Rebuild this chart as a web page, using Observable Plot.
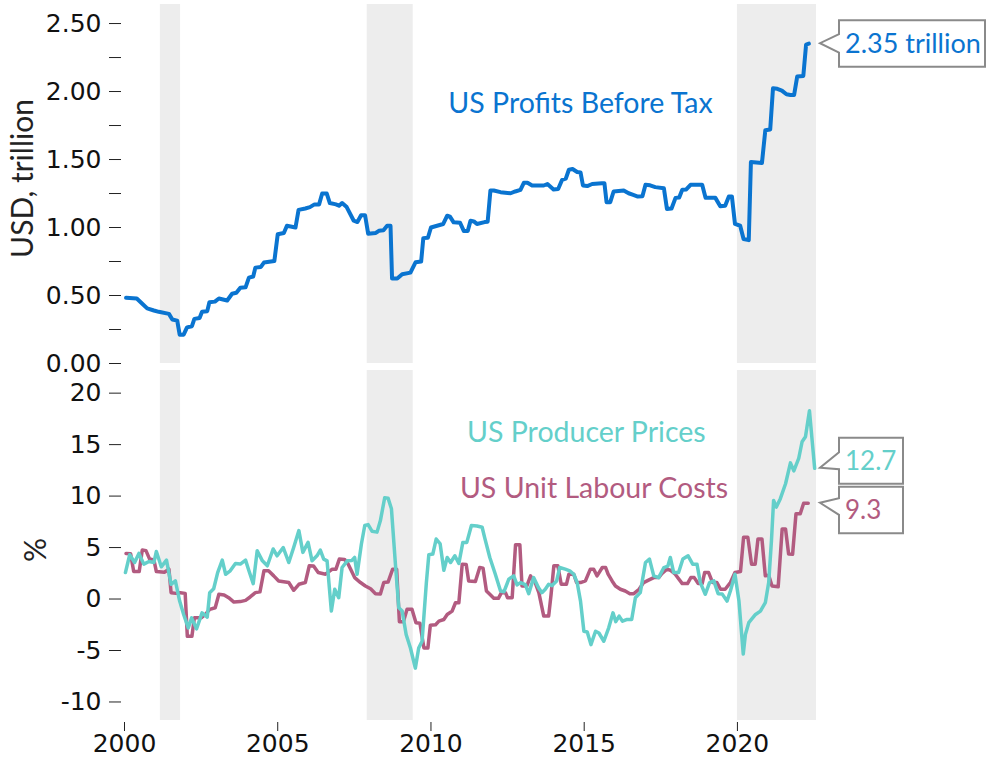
<!DOCTYPE html>
<html><head><meta charset="utf-8">
<script src="https://cdn.jsdelivr.net/npm/d3@7"></script>
<script src="https://cdn.jsdelivr.net/npm/@observablehq/plot@0.6"></script>
<style>
body{margin:0;background:#fff;}
#chart{width:989px;line-height:0;}
#chart svg{display:block;}
</style></head><body><div id="chart"></div>
<script>
// ---------- data ----------
const recessionStart = [2001.17, 2007.92, 2020.0];
const recessionEnd   = [2001.83, 2009.42, 2022.58];

const profitYears = [2000.05,2000.4,2000.58,2000.74,2000.96,2001.12,2001.45,2001.56,2001.72,2001.8,2001.93,2002.04,2002.2,2002.28,2002.45,2002.53,2002.7,2002.77,2002.95,2003.08,2003.35,2003.51,2003.65,2003.78,2003.95,2004.06,2004.2,2004.27,2004.45,2004.55,2004.89,2005.0,2005.2,2005.3,2005.58,2005.68,2005.9,2006.05,2006.2,2006.35,2006.45,2006.6,2006.7,2006.9,2007.0,2007.1,2007.25,2007.48,2007.6,2007.72,2007.85,2007.95,2008.2,2008.3,2008.45,2008.57,2008.68,2008.73,2008.9,2009.06,2009.33,2009.5,2009.68,2009.75,2009.9,2010.0,2010.2,2010.4,2010.53,2010.62,2010.74,2010.95,2011.07,2011.2,2011.29,2011.4,2011.5,2011.75,2011.85,2011.94,2012.05,2012.27,2012.6,2012.75,2012.92,2013.03,2013.15,2013.3,2013.68,2013.8,2014.0,2014.15,2014.28,2014.4,2014.5,2014.62,2014.77,2014.88,2014.96,2015.1,2015.26,2015.58,2015.66,2015.73,2015.85,2015.96,2016.29,2016.45,2016.6,2016.75,2016.9,2017.0,2017.15,2017.32,2017.6,2017.7,2017.85,2017.98,2018.1,2018.2,2018.33,2018.47,2018.85,2018.96,2019.28,2019.44,2019.6,2019.72,2019.82,2019.92,2020.09,2020.2,2020.37,2020.44,2020.8,2020.91,2021.07,2021.16,2021.3,2021.45,2021.6,2021.73,2021.85,2021.95,2022.15,2022.24,2022.33];
const profitValues = [0.483,0.478,0.44,0.405,0.39,0.38,0.365,0.323,0.315,0.212,0.212,0.266,0.274,0.328,0.335,0.38,0.385,0.451,0.455,0.478,0.463,0.513,0.52,0.557,0.56,0.631,0.64,0.705,0.71,0.742,0.754,0.95,0.96,1.013,1.0,1.13,1.14,1.15,1.17,1.17,1.25,1.25,1.18,1.17,1.16,1.18,1.15,1.05,1.04,1.09,1.09,0.955,0.96,0.976,0.98,1.013,1.013,0.625,0.625,0.656,0.668,0.745,0.75,0.922,0.925,1.0,1.013,1.026,1.087,1.08,1.038,1.035,0.975,0.975,1.05,1.045,1.026,1.04,1.043,1.272,1.272,1.26,1.252,1.265,1.277,1.329,1.329,1.309,1.309,1.32,1.28,1.283,1.351,1.36,1.425,1.43,1.408,1.405,1.309,1.305,1.32,1.326,1.326,1.186,1.186,1.265,1.272,1.252,1.24,1.228,1.23,1.314,1.31,1.297,1.289,1.137,1.14,1.218,1.22,1.277,1.28,1.314,1.314,1.218,1.218,1.156,1.16,1.228,1.228,1.026,1.013,0.915,0.907,1.482,1.474,1.716,1.721,2.024,2.02,2.007,1.98,1.975,1.975,2.11,2.115,2.345,2.352];

const ppiYears = [2000.03,2000.17,2000.33,2000.47,2000.63,2000.8,2000.96,2001.04,2001.2,2001.37,2001.52,2001.66,2001.8,2001.93,2002.08,2002.19,2002.35,2002.53,2002.7,2002.78,2002.91,2003.04,2003.19,2003.3,2003.45,2003.62,2003.78,2003.95,2004.06,2004.2,2004.33,2004.5,2004.66,2004.85,2004.98,2005.18,2005.36,2005.52,2005.69,2005.82,2005.99,2006.12,2006.28,2006.39,2006.5,2006.61,2006.75,2006.86,2006.99,2007.1,2007.27,2007.42,2007.51,2007.59,2007.73,2007.84,2007.95,2008.08,2008.24,2008.35,2008.49,2008.6,2008.71,2008.84,2008.95,2009.06,2009.19,2009.33,2009.49,2009.6,2009.71,2009.85,2009.93,2010.06,2010.17,2010.3,2010.42,2010.53,2010.64,2010.78,2010.91,2011.04,2011.17,2011.32,2011.5,2011.67,2011.75,2011.92,2012.1,2012.27,2012.38,2012.54,2012.7,2012.81,2012.92,2013.08,2013.19,2013.35,2013.51,2013.62,2013.73,2013.84,2013.95,2014.1,2014.2,2014.38,2014.53,2014.66,2014.77,2014.88,2014.99,2015.1,2015.22,2015.37,2015.48,2015.64,2015.8,2015.94,2016.03,2016.14,2016.25,2016.38,2016.55,2016.67,2016.83,2017.0,2017.13,2017.27,2017.43,2017.6,2017.73,2017.81,2017.92,2018.08,2018.22,2018.39,2018.54,2018.68,2018.79,2018.95,2019.09,2019.23,2019.37,2019.5,2019.66,2019.77,2019.92,2020.05,2020.19,2020.26,2020.37,2020.59,2020.75,2020.91,2021.02,2021.11,2021.18,2021.27,2021.4,2021.57,2021.73,2021.84,2022.0,2022.11,2022.22,2022.35,2022.52];
const ppiValues = [2.57,4.3,3.55,4.43,3.39,3.65,3.55,4.62,3.13,3.78,1.43,1.76,-0.2,-1.5,-2.8,-1.83,-2.9,-1.34,-1.76,0.62,1.0,2.57,3.78,2.41,2.74,3.45,3.4,3.78,2.74,1.5,4.69,3.71,3.23,4.86,4.2,5.0,3.55,5.0,6.65,4.53,5.5,3.71,4.2,4.76,3.88,3.71,-1.17,0.95,0.13,3.06,3.71,3.75,4.04,2.41,5.35,7.14,7.23,6.58,6.5,7.62,9.84,9.8,8.77,3.39,-0.85,-1.17,-3.45,-4.76,-6.71,-4.76,-4.1,1.6,4.3,4.37,5.83,5.35,2.8,4.04,3.55,4.2,3.45,5.5,5.5,7.14,7.1,6.97,5.99,4.04,2.41,0.78,0.7,1.93,2.25,1.37,1.6,1.4,0.52,2.08,1.1,0.62,0.95,1.43,1.3,1.76,3.06,2.9,2.74,2.41,1.6,-0.2,-3.13,-3.2,-4.43,-3.13,-3.3,-4.1,-2.8,-1.34,-2.2,-1.66,-2.15,-1.99,-1.99,0.13,0.62,3.55,3.88,2.25,2.08,3.06,3.2,4.04,2.57,2.57,3.88,4.2,3.39,3.39,1.6,0.46,1.6,1.76,0.52,0.5,-0.2,0.78,2.41,-0.2,-5.35,-3.45,-2.3,-1.5,-1.17,-0.36,1.6,5.67,9.58,8.93,9.75,11.2,13.23,12.45,13.66,15.28,15.77,18.3,12.7];

const ulcYears = [2000.05,2000.2,2000.3,2000.48,2000.58,2000.7,2000.82,2000.96,2001.04,2001.3,2001.45,2001.52,2001.68,2001.82,2001.98,2002.05,2002.2,2002.28,2002.5,2002.64,2002.78,2002.96,2003.08,2003.25,2003.4,2003.57,2003.78,2003.95,2004.1,2004.27,2004.42,2004.55,2004.7,2004.87,2005.03,2005.36,2005.52,2005.69,2005.9,2006.03,2006.17,2006.32,2006.56,2006.78,2006.9,2007.01,2007.18,2007.3,2007.51,2007.7,2007.86,2008.03,2008.19,2008.35,2008.46,2008.6,2008.75,2008.88,2008.97,2009.1,2009.22,2009.38,2009.51,2009.64,2009.77,2009.9,2009.98,2010.15,2010.26,2010.42,2010.53,2010.69,2010.8,2010.91,2011.02,2011.15,2011.23,2011.45,2011.59,2011.7,2011.81,2011.92,2012.05,2012.2,2012.3,2012.43,2012.5,2012.65,2012.76,2012.9,2012.97,2013.13,2013.25,2013.4,2013.52,2013.68,2013.84,2013.92,2014.01,2014.14,2014.25,2014.42,2014.5,2014.66,2014.75,2014.88,2015.04,2015.2,2015.31,2015.42,2015.59,2015.7,2015.78,2015.91,2016.02,2016.18,2016.34,2016.49,2016.62,2016.79,2016.94,2017.1,2017.27,2017.43,2017.54,2017.7,2017.81,2017.97,2018.2,2018.37,2018.48,2018.59,2018.72,2018.85,2018.93,2019.06,2019.19,2019.33,2019.45,2019.6,2019.77,2019.92,2020.1,2020.2,2020.34,2020.46,2020.58,2020.67,2020.8,2020.91,2021.02,2021.13,2021.33,2021.46,2021.57,2021.67,2021.8,2021.91,2022.05,2022.16,2022.31];
const ulcValues = [4.43,4.4,2.67,2.67,4.76,4.7,3.88,3.8,2.67,2.6,2.9,0.62,0.55,0.62,0.55,-3.62,-3.62,-1.83,-1.83,-1.5,-1.0,-0.85,0.46,0.4,0.13,-0.3,-0.25,-0.13,0.2,0.62,0.7,2.74,2.74,2.25,1.76,1.6,0.85,1.43,1.6,3.23,3.2,2.57,2.41,2.9,2.9,3.88,3.85,3.39,2.08,1.6,1.27,1.0,0.52,0.5,1.6,1.65,2.9,2.9,-2.2,-2.2,-1.0,-1.0,-2.3,-2.35,-4.76,-4.76,-2.54,-2.5,-2.15,-1.99,-1.5,-1.17,-0.36,-0.36,3.39,3.35,1.76,1.7,3.06,3.0,0.78,0.46,0.07,0.07,0.62,0.62,0.13,0.13,5.28,5.28,1.27,1.27,2.25,1.6,0.62,-1.66,-1.66,0.46,3.23,3.23,1.43,1.43,2.41,2.41,1.6,1.6,1.76,2.9,2.9,2.25,3.06,3.06,2.41,1.76,1.27,0.95,0.78,0.52,0.52,0.95,1.6,1.83,2.08,2.08,2.48,2.9,2.8,2.41,1.5,1.5,2.08,2.08,1.5,1.5,2.57,2.57,1.6,1.6,0.95,0.95,1.6,2.57,2.67,5.99,5.99,3.39,3.39,5.83,5.83,2.25,2.3,1.27,1.2,6.81,6.81,4.37,4.35,8.28,8.28,9.3,9.3];

const profitTicks = [0, 0.5, 1, 1.5, 2, 2.5];
const profitMinorTicks = [0.25, 0.75, 1.25, 1.75, 2.25];
const pctTicks = [-10, -5, 0, 5, 10, 15, 20];
const yearTicks = [2000, 2005, 2010, 2015, 2020];

// ---------- tables ----------
const recessions = recessionStart.map((s, i) => ({start: s, end: recessionEnd[i]}));
const profits = profitYears.map((x, i) => ({x, y: profitValues[i]}));
const ppi = ppiYears.map((x, i) => ({x, y: ppiValues[i]}));
const ulc = ulcYears.map((x, i) => ({x, y: ulcValues[i]}));

// ---------- styles ----------
const BLUE = "#0a74d0", TEAL = "#64cfca", PLUM = "#b25b80";
const TICKFONT = "DejaVu Sans", LABELFONT = "Lato";
const TICKSIZE = 25;
const W = 989, ML = 124, MR = 173;
const xDomain = [2000, 2022.58];

function callout(value, label, color, o) {
  return (index, scales, values, dim) => {
    const tx = dim.width - dim.marginRight + 4;
    const ty = scales.y(value);
    const bx = tx + 19, bt = ty + o.top, bb = ty + o.bottom, br = bx + o.w;
    const g = d3.create("svg:g");
    g.append("path")
      .attr("d", `M${bx},${bt}H${br}V${bb}H${bx}V${ty + o.b2}L${tx},${ty}L${bx},${ty + o.b1}Z`)
      .attr("fill", "#fff").attr("stroke", "#8a8a8a").attr("stroke-width", 2);
    g.append("text")
      .attr("x", bx + 6).attr("y", (bt + bb) / 2).attr("dy", "0.36em")
      .attr("text-anchor", "start")
      .attr("fill", color).attr("font-family", LABELFONT).attr("font-size", o.fs)
      .text(label);
    return g.node();
  };
}

function axisTitle(label, x, dy) {
  return (index, scales, values, dim) => {
    const cy = (dim.marginTop + dim.height - dim.marginBottom) / 2 + dy;
    return d3.create("svg:text")
      .attr("transform", `translate(${x},${cy}) rotate(-90)`)
      .attr("text-anchor", "middle").attr("dy", "0.36em")
      .attr("fill", "#222").attr("font-family", LABELFONT).attr("font-size", 30)
      .text(label).node();
  };
}

const topPlot = Plot.plot({
  width: W, height: 366, marginLeft: ML, marginRight: MR, marginTop: 4, marginBottom: 3,
  style: {fontFamily: TICKFONT, background: "#fff", color: "#111", overflow: "visible"},
  x: {domain: xDomain, axis: null},
  y: {domain: [0, 2.64], axis: null},
  marks: [
    Plot.rect(recessions, {x1: "start", x2: "end", fill: "#ededed"}),
    Plot.axisY({ticks: profitTicks, tickFormat: d => d.toFixed(2), tickSize: 12, tickPadding: 8, dx: -3, fontSize: TICKSIZE, label: null, stroke: "#222"}),
    Plot.axisY({ticks: profitMinorTicks, tickFormat: () => "", tickSize: 12, dx: -3, label: null, stroke: "#222"}),
    axisTitle("USD, trillion", 22, -5),
    Plot.line(profits, {x: "x", y: "y", stroke: BLUE, strokeWidth: 4}),
    Plot.text(["US Profits Before Tax"], {x: 2014.88, y: 1.91, fill: BLUE, fontFamily: LABELFONT, fontSize: 28.5}),
    callout(profitValues[profitValues.length - 1], profitValues[profitValues.length - 1].toFixed(2) + " trillion", BLUE, {top: -23, bottom: 23.5, b1: -9, b2: 9.5, w: 146, fs: 27})
  ]
});

const botPlot = Plot.plot({
  width: W, height: 407, marginLeft: ML, marginRight: MR, marginTop: 4, marginBottom: 53,
  style: {fontFamily: TICKFONT, background: "#fff", color: "#111", overflow: "visible"},
  x: {domain: xDomain, axis: null},
  y: {domain: [-11.8, 22.2], axis: null},
  marks: [
    Plot.rect(recessions, {x1: "start", x2: "end", fill: "#ededed"}),
    Plot.axisY({ticks: pctTicks, tickFormat: d => String(d), tickSize: 12, tickPadding: 8, dx: -3, fontSize: TICKSIZE, label: null, stroke: "#222"}),
    Plot.axisX({ticks: yearTicks, tickFormat: d => String(d), tickSize: 9, tickPadding: 3, dy: 2, fontSize: TICKSIZE, label: null, stroke: "#222"}),
    axisTitle("%", 35, 5),
    Plot.line(ulc, {x: "x", y: "y", stroke: PLUM, strokeWidth: 3.5}),
    Plot.line(ppi, {x: "x", y: "y", stroke: TEAL, strokeWidth: 3.5}),
    Plot.text(["US Producer Prices"], {x: 2015.07, y: 16.1, fill: TEAL, fontFamily: LABELFONT, fontSize: 28.5}),
    Plot.text(["US Unit Labour Costs"], {x: 2015.32, y: 10.66, fill: PLUM, fontFamily: LABELFONT, fontSize: 28.5}),
    callout(ppiValues[ppiValues.length - 1], ppiValues[ppiValues.length - 1].toFixed(1), TEAL, {top: -30, bottom: 16, b1: -15.5, b2: 1.5, w: 64, fs: 26}),
    callout(ulcValues[ulcValues.length - 1], ulcValues[ulcValues.length - 1].toFixed(1), PLUM, {top: -16, bottom: 30.5, b1: -4.5, b2: 12, w: 64, fs: 26})
  ]
});

const chart = document.getElementById("chart");
chart.appendChild(topPlot);
chart.appendChild(botPlot);
</script>
</body></html>
